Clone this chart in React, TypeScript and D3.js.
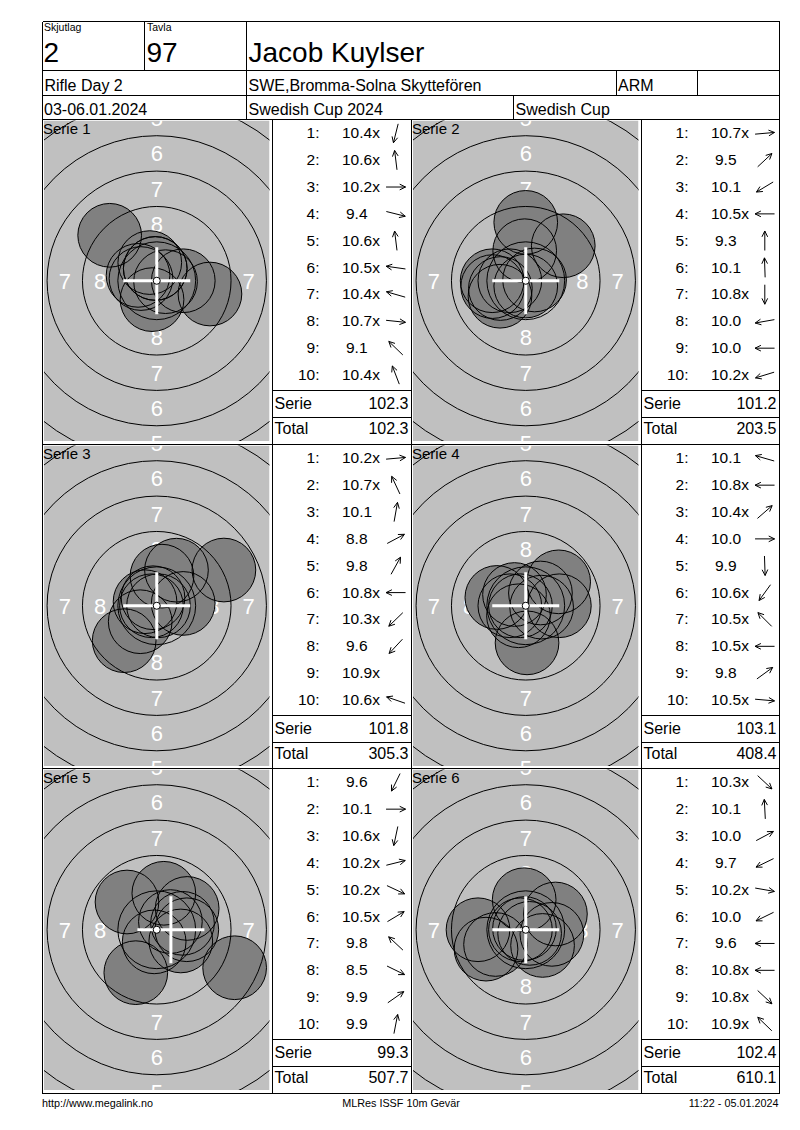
"use client";

import * as d3 from "d3";
import { useEffect, useRef } from "react";

const headerLabels = ["Skjutlag", "Tavla"];
const headerValues = ["2", "97"];
const shooterName = "Jacob Kuylser";
const eventRow = ["Rifle Day 2", "SWE,Bromma-Solna Skyttefören", "ARM"];
const dateRow = ["03-06.01.2024", "Swedish Cup 2024", "Swedish Cup"];
const footerTexts = ["http://www.megalink.no", "MLRes ISSF 10m Gevär", "11:22 - 05.01.2024"];

const seriesNames = ["Serie 1", "Serie 2", "Serie 3", "Serie 4", "Serie 5", "Serie 6"];

// printed shot values, "x" marks an inner ten
const serie1Shots = ["10.4x", "10.6x", "10.2x", "9.4", "10.6x", "10.5x", "10.4x", "10.7x", "9.1", "10.4x"];
const serie2Shots = ["10.7x", "9.5", "10.1", "10.5x", "9.3", "10.1", "10.8x", "10.0", "10.0", "10.2x"];
const serie3Shots = ["10.2x", "10.7x", "10.1", "8.8", "9.8", "10.8x", "10.3x", "9.6", "10.9x", "10.6x"];
const serie4Shots = ["10.1", "10.8x", "10.4x", "10.0", "9.9", "10.6x", "10.5x", "10.5x", "9.8", "10.5x"];
const serie5Shots = ["9.6", "10.1", "10.6x", "10.2x", "10.2x", "10.5x", "9.8", "8.5", "9.9", "9.9"];
const serie6Shots = ["10.3x", "10.1", "10.0", "9.7", "10.2x", "10.0", "9.6", "10.8x", "10.8x", "10.9x"];

// direction of each hit from the centre, degrees (0 = right, 90 = up)
const serie1Dirs = [256, 97, 0, -14, 97, 172, 164, -6, 136, 111];
const serie2Dirs = [5, 43, 211, 180, 90, 92, 270, 190, 180, 197];
const serie3Dirs = [5, 115, 80, 28, 61, 180, 224, 227, null, 161];
const serie4Dirs = [164, 180, 41, 0, 272, 234, 135, 180, 36, -5];
const serie5Dirs = [244, 0, 258, 14, -25, 31, 137, -26, 35, 79];
const serie6Dirs = [-43, 93, 28, 206, -10, 206, 180, 180, -43, 136];

const ringNumbers = [1, 2, 3, 4, 5, 6, 7, 8, 9];
const ringLabels = [1, 2, 3, 4, 5, 6, 7, 8];

const allShots = [serie1Shots, serie2Shots, serie3Shots, serie4Shots, serie5Shots, serie6Shots];
const allDirs = [serie1Dirs, serie2Dirs, serie3Dirs, serie4Dirs, serie5Dirs, serie6Dirs];

const App = () => {
  const ref = useRef<SVGSVGElement>(null);

  useEffect(() => {
    const svg = d3.select(ref.current);
    svg.selectAll("*").remove();

    const font = "'Liberation Sans', Arial, Helvetica, sans-serif";
    const mm = d3.scaleLinear().domain([0, 1]).range([0, 14.15]);
    // decimal score -> distance of hit centre from target centre (mm)
    const scoreOffset = d3.scaleLinear().domain([10.95, 0]).range([0, 10.95 * 2.5]).clamp(true);
    const ringRadius = (k: number) => mm(2.75 + (9 - k) * 2.5);
    const labelDist = (k: number) => mm(1.5 + (9 - k) * 2.5);
    const shotR = mm(2.25);

    const left = 42.5;
    const right = 779.5;
    const top = 21.5;
    const rowTops = d3.range(4).map((r) => Math.floor(119.5 + r * 324.5) + 0.5);
    const rowH = 324.5;
    const defs = svg.append("defs");

    const grid = svg
      .append("g")
      .attr("stroke", "#000")
      .attr("stroke-width", 1)
      .attr("shape-rendering", "crispEdges");
    const line = (x1: number, y1: number, x2: number, y2: number) =>
      grid.append("line").attr("x1", x1).attr("y1", y1).attr("x2", x2).attr("y2", y2);

    const text = (x: number, y: number, t: string, size: number, anchor = "start", fill = "#000") =>
      svg
        .append("text")
        .attr("x", x)
        .attr("y", y)
        .attr("text-anchor", anchor)
        .attr("font-family", font)
        .attr("font-size", size)
        .attr("fill", fill)
        .text(t);

    // header
    [top, 70.5, 95.5].forEach((y) => line(left, y, right, y));
    line(144.5, top, 144.5, 70.5);
    line(246.5, top, 246.5, 119.5);
    line(616.5, 70.5, 616.5, 95.5);
    line(697.5, 70.5, 697.5, 95.5);
    line(513.5, 95.5, 513.5, 119.5);

    text(44, 31, headerLabels[0], 10.5);
    text(147, 31, headerLabels[1], 10.5);
    text(43.5, 62, headerValues[0], 28);
    text(146.5, 62, headerValues[1], 28);
    text(248.5, 61.5, shooterName, 28);
    [44.5, 248.5, 618].forEach((x, i) => text(x, 91, eventRow[i], 16));
    [44, 248.5, 515.5].forEach((x, i) => text(x, 115, dateRow[i], 16));

    // footer
    text(42, 1106.5, footerTexts[0], 10.8);
    text(401, 1106.5, footerTexts[1], 10.8, "middle");
    text(778.5, 1106.5, footerTexts[2], 10.8, "end");

    let running = 0;

    allShots.forEach((shots, i) => {
      const col = i % 2;
      const row = Math.floor(i / 2);
      const cellLeft = col ? 411.5 : left;
      const tableLeft = col ? 641.5 : 272.5;
      const tableRight = col ? right : 411.5;
      const y0 = rowTops[row];

      const gx = cellLeft + 1.5;
      const gw = tableLeft - 3 - gx;
      const gy = y0 + 1;
      const gh = rowH - 4;
      const cx = gx + gw / 2;
      const cy = gy + gh / 2;

      const values = shots.map((s) => parseFloat(s));
      const hits = values.map((v, j) => {
        const a = allDirs[i][j];
        const d = scoreOffset(v);
        const rad = ((a ?? 0) * Math.PI) / 180;
        return { dx: d * Math.cos(rad), dy: d * Math.sin(rad) };
      });

      const clipId = `clip-${i}`;
      defs
        .append("clipPath")
        .attr("id", clipId)
        .append("rect")
        .attr("x", gx)
        .attr("y", gy)
        .attr("width", gw)
        .attr("height", gh);
      const g = svg.append("g").attr("clip-path", `url(#${clipId})`);

      g.append("rect").attr("x", gx).attr("y", gy).attr("width", gw).attr("height", gh).attr("fill", "#c0c0c0");

      // ring numbers, only those that reach into the panel
      const labelPos = ringLabels.flatMap((k) => {
        const dd = labelDist(k);
        return [
          { k, x: cx + dd, y: cy },
          { k, x: cx - dd, y: cy },
          { k, x: cx, y: cy + dd },
          { k, x: cx, y: cy - dd },
        ];
      });
      g.selectAll("text.lbl")
        .data(labelPos.filter((p) => p.x > gx - 6 && p.x < gx + gw + 6 && p.y > gy - 9 && p.y < gy + gh + 9))
        .enter()
        .append("text")
        .attr("class", "lbl")
        .attr("x", (p) => p.x)
        .attr("y", (p) => p.y)
        .attr("dy", "0.36em")
        .attr("text-anchor", "middle")
        .attr("font-family", font)
        .attr("font-size", 22)
        .attr("fill", "#ffffff")
        .text((p) => p.k);

      g.selectAll("circle.fill")
        .data(hits)
        .enter()
        .append("circle")
        .attr("class", "fill")
        .attr("cx", (h) => cx + mm(h.dx))
        .attr("cy", (h) => cy - mm(h.dy))
        .attr("r", shotR)
        .attr("fill", "#808080");

      g.selectAll("circle.edge")
        .data(hits)
        .enter()
        .append("circle")
        .attr("class", "edge")
        .attr("cx", (h) => cx + mm(h.dx))
        .attr("cy", (h) => cy - mm(h.dy))
        .attr("r", shotR)
        .attr("fill", "none")
        .attr("stroke", "#000")
        .attr("stroke-width", 1);

      g.selectAll("circle.ring")
        .data(ringNumbers)
        .enter()
        .append("circle")
        .attr("class", "ring")
        .attr("cx", cx)
        .attr("cy", cy)
        .attr("r", (k) => ringRadius(k))
        .attr("fill", "none")
        .attr("stroke", "#000")
        .attr("stroke-width", 1);

      // group centre, whole millimetres
      const mx = Math.trunc(d3.mean(hits, (h) => h.dx) ?? 0);
      const my = Math.trunc(d3.mean(hits, (h) => h.dy) ?? 0);
      const px = cx + mm(mx);
      const py = cy - mm(my);
      const arm = 33.5;
      g.append("path")
        .attr("d", `M${px - arm},${py}H${px + arm}M${px},${py - arm}V${py + arm}`)
        .attr("stroke", "#fff")
        .attr("stroke-width", 3)
        .attr("fill", "none");

      g.append("circle")
        .attr("cx", cx)
        .attr("cy", cy)
        .attr("r", mm(0.25))
        .attr("fill", "#fff")
        .attr("stroke", "#000")
        .attr("stroke-width", 1);

      text(cellLeft + 0.5, y0 + 14, seriesNames[i], 15);

      // table
      const step = 26.86;
      shots.forEach((s, j) => {
        const base = y0 + 18.8 + j * step;
        text(tableLeft + 47, base, `${j + 1}:`, 15.5, "end");
        text(tableLeft + 69.5 + (values[j] < 10 ? 4 : 0), base, s, 15.5);
        const a = allDirs[i][j];
        if (a === null) return;
        const rad = (a * Math.PI) / 180;
        const ux = Math.cos(rad);
        const uy = -Math.sin(rad);
        const acx = tableLeft + 123.3;
        const acy = base - 5;
        const half = 9.75;
        const tx = acx + ux * half;
        const ty = acy + uy * half;
        const head = 6.5;
        const spread = (26 * Math.PI) / 180;
        const wing = (sgn: number) => {
          const c = Math.cos(sgn * spread);
          const sn = Math.sin(sgn * spread);
          const bx = -(ux * c - uy * sn);
          const by = -(ux * sn + uy * c);
          return `M${tx},${ty}L${tx + bx * head},${ty + by * head}`;
        };
        svg
          .append("path")
          .attr("d", `M${acx - ux * half},${acy - uy * half}L${tx},${ty}${wing(1)}${wing(-1)}`)
          .attr("stroke", "#000")
          .attr("stroke-width", 1)
          .attr("fill", "none");
      });

      const serieSum = Math.round(d3.sum(values) * 10) / 10;
      running = Math.round((running + serieSum) * 10) / 10;
      text(tableLeft + 2, y0 + 289.8, "Serie", 16);
      text(tableRight - 3, y0 + 289.8, serieSum.toFixed(1), 16, "end");
      text(tableLeft + 2, y0 + 314.8, "Total", 16);
      text(tableRight - 3, y0 + 314.8, running.toFixed(1), 16, "end");

      line(tableLeft, y0 + 270.5, tableRight, y0 + 270.5);
      line(tableLeft, y0 + 297.5, tableRight, y0 + 297.5);
    });

    // panel grid on top
    rowTops.forEach((y) => line(left, y, right, y));
    [left, right].forEach((x) => line(x, top, x, rowTops[3]));
    [272.5, 411.5, 641.5].forEach((x) => line(x, rowTops[0], x, rowTops[3]));
    grid.raise();
  }, []);

  return (
    <svg
      ref={ref}
      width={800}
      height={1130}
      style={{ position: "absolute", left: 0, top: 0, background: "#fff" }}
    ></svg>
  );
};

export default App;
